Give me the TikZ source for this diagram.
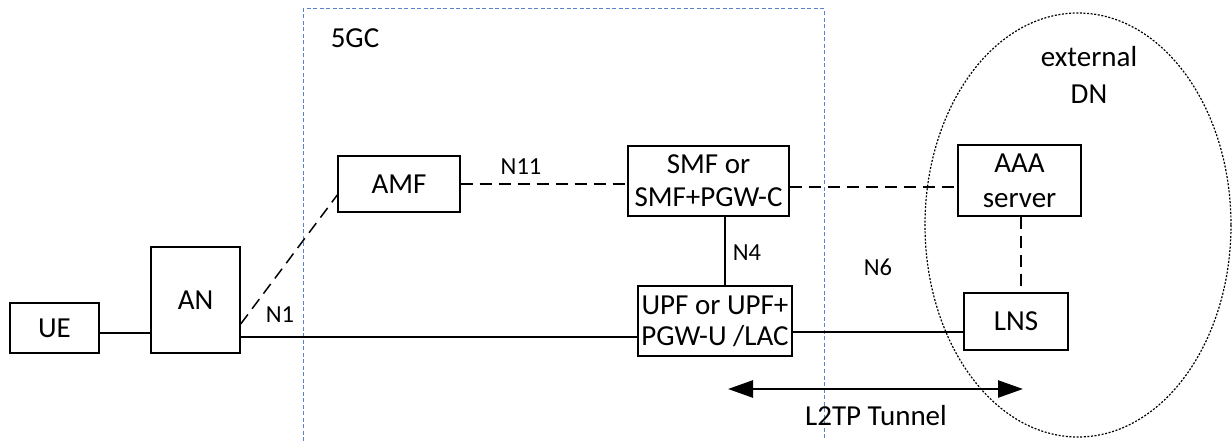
\documentclass[tikz,border=0pt]{standalone}
\usepackage{fontspec}
\setmainfont{Carlito}
\usetikzlibrary{arrows.meta,calc}
\definecolor{gcblue}{HTML}{5B82CF}
\tikzset{
  box/.style={draw, line width=1.4pt, inner sep=0pt, align=center,
    font=\fontsize{29}{33}\selectfont},
  lbl/.style={inner sep=0pt, font=\fontsize{24.5}{28}\selectfont},
  ctrl/.style={line width=1.5pt, dash pattern=on 12pt off 7pt},
  user/.style={line width=1.5pt},
}
\begin{document}
\begin{tikzpicture}[x=1pt,y=-1pt]
\useasboundingbox[fill=white] (0,0) rectangle (1232,441);
% 5GC region
\draw[gcblue, line width=1pt, dash pattern=on 4pt off 2.5pt]
  (303,441) -- (303,9) -- (824,9) -- (824,441);
\node[inner sep=0pt, font=\fontsize{29}{33}\selectfont] (gc) at (355,38) {5GC};
% external DN
\draw[line width=1.2pt, dash pattern=on 2pt off 1.6pt] (1078,225) ellipse [x radius=153, y radius=212];
\node[inner sep=0pt, align=center, font=\fontsize{29}{37}\selectfont] (dn) at (1089,75) {external\\DN};
% boxes
\node[box, minimum width=89pt, minimum height=50pt] (UE) at (54.5,328) {UE};
\node[box, minimum width=89pt, minimum height=106pt] (AN) at (195.5,300) {AN};
\node[box, minimum width=122pt, minimum height=56pt] (AMF) at (399,184) {AMF};
\node[box, minimum width=161pt, minimum height=70pt] (SMF) at (708.5,181) {SMF or\\SMF+PGW-C};
\node[box, minimum width=154pt, minimum height=70pt, font=\fontsize{29}{31}\selectfont] (UPF) at (715,321) {UPF or UPF+\\PGW-U /LAC};
\node[box, minimum width=123pt, minimum height=71pt, font=\fontsize{29}{35}\selectfont] (AAA) at (1019.5,180.5) {AAA\\server};
\node[box, minimum width=104pt, minimum height=57pt] (LNS) at (1016,321.5) {LNS};
% connectors
\draw[user] ([yshift=-5pt]UE.east) -- ([yshift=-5pt]UE.east -| AN.west);
\draw[user] ([yshift=-37pt]AN.east) -- ([yshift=-37pt]AN.east -| UPF.west);
\draw[user] ([yshift=-11pt]UPF.east) -- ([yshift=-11pt]UPF.east -| LNS.west);
\draw[user] ([xshift=16.5pt]SMF.south) -- ([xshift=16.5pt]SMF.south |- UPF.north);
\draw[ctrl] ([yshift=-24pt]AN.east) -- ([yshift=-11pt]AMF.west);
\draw[ctrl] (AMF.east) -- (AMF.east -| SMF.west);
\draw[ctrl] ([yshift=-6pt]SMF.east) -- ([yshift=-6pt]SMF.east -| AAA.west);
\draw[ctrl] ([xshift=1.5pt]AAA.south) -- ([xshift=1.5pt]AAA.south |- LNS.north);
% labels
\node[lbl] (n1) at (280,315) {N1};
\node[lbl] (n11) at (521,167) {N11};
\node[lbl] (n4) at (747,253) {N4};
\node[lbl] (n6) at (878,267) {N6};
% L2TP tunnel
\coordinate (tl) at (728,389);
\coordinate (tr) at (1023,389);
\draw[line width=2.6pt, {Triangle[length=25pt,width=17pt]}-{Triangle[length=25pt,width=17pt]}] (tl) -- (tr);
\node[inner sep=0pt, font=\fontsize{29}{33}\selectfont] (tun) at (876,416) {L2TP Tunnel};
\end{tikzpicture}
\end{document}
